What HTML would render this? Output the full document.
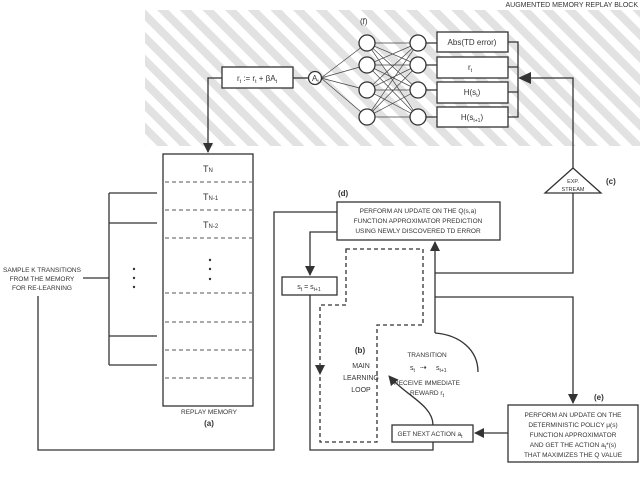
<!DOCTYPE html>
<html><head><meta charset="utf-8"><style>
html,body{margin:0;padding:0;background:#fff}
svg{display:block}
text{font-family:"Liberation Sans",Arial,sans-serif;fill:#333}
</style></head><body>
<svg width="640" height="478" viewBox="0 0 640 478" xmlns="http://www.w3.org/2000/svg">
<defs>
<pattern id="h" patternUnits="userSpaceOnUse" width="16" height="16" patternTransform="rotate(45)">
<rect x="0" y="0" width="16" height="8" fill="#e2e2e2"/>
</pattern>
<marker id="a" markerWidth="10" markerHeight="10" refX="9" refY="5" orient="auto" markerUnits="userSpaceOnUse">
<path d="M0,0 L10,5 L0,10 z" fill="#333"/>
</marker>
</defs>
<rect x="145" y="10" width="495" height="136" fill="url(#h)"/>
<text x="638" y="7" font-size="7" text-anchor="end">AUGMENTED MEMORY REPLAY BLOCK</text>
<text x="360" y="24" font-size="8">(f)</text>

<g stroke="#444" stroke-width="0.7" fill="none">
<!-- network lines -->
<path d="M321,78 L367,43 M321,78 L367,65 M321,78 L367,90 M321,78 L367,117"/>
<path d="M367,43 L418,43 M367,43 L418,65 M367,43 L418,90 M367,43 L418,117
M367,65 L418,43 M367,65 L418,65 M367,65 L418,90 M367,65 L418,117
M367,90 L418,43 M367,90 L418,65 M367,90 L418,90 M367,90 L418,117
M367,117 L418,43 M367,117 L418,65 M367,117 L418,90 M367,117 L418,117"/>
</g>
<g stroke="#333" stroke-width="1.3" fill="#fff">
<circle cx="367" cy="43" r="8"/><circle cx="367" cy="65" r="8"/><circle cx="367" cy="90" r="8"/><circle cx="367" cy="117" r="8"/>
<circle cx="418" cy="43" r="8"/><circle cx="418" cy="65" r="8"/><circle cx="418" cy="90" r="8"/><circle cx="418" cy="117" r="8"/>
<circle cx="315" cy="78" r="6.5"/>
<rect x="222" y="67" width="71" height="21"/>
<rect x="437" y="32" width="71" height="20"/>
<rect x="437" y="57" width="71" height="21"/>
<rect x="437" y="82" width="71" height="21"/>
<rect x="437" y="107" width="71" height="20"/>
</g>
<g stroke="#333" stroke-width="1.3" fill="none">
<path d="M293,78 L308,78"/>
<path d="M426,43 L437,43 M426,65 L437,65 M426,90 L437,90 M426,117 L437,117"/>
<path d="M508,42 L518,42 L518,117 L508,117 M508,67 L518,67 M508,92 L518,92"/>
<path d="M573,168 L573,78 L531,78"/>
<path d="M222,78 L208,78 L208,152" marker-end="url(#a)"/>
</g>
<path d="M518,78 L531,72 L531,84 z" fill="#333"/>
<text x="257" y="81" font-size="8" text-anchor="middle">r<tspan font-size="5" dy="2">t</tspan><tspan dy="-2"> := r</tspan><tspan font-size="5" dy="2">t</tspan><tspan dy="-2"> + βA</tspan><tspan font-size="5" dy="2">t</tspan></text>
<text x="312" y="81" font-size="8">A<tspan font-size="5" dy="2">t</tspan></text>
<text x="472" y="45" font-size="8" text-anchor="middle">Abs(TD error)</text>
<text x="470" y="70" font-size="8" text-anchor="middle">r<tspan font-size="5" dy="2">t</tspan></text>
<text x="472" y="95" font-size="8" text-anchor="middle">H(s<tspan font-size="5" dy="2">t</tspan><tspan dy="-2">)</tspan></text>
<text x="472" y="120" font-size="8" text-anchor="middle">H(s<tspan font-size="5" dy="2">t+1</tspan><tspan dy="-2">)</tspan></text>

<!-- triangle -->
<path d="M573,168 L545,193 L601,193 z" fill="#fff" stroke="#333" stroke-width="1.3"/>
<text x="573" y="183" font-size="5.5" text-anchor="middle">EXP.</text>
<text x="573" y="191" font-size="5.5" text-anchor="middle">STREAM</text>
<text x="606" y="184" font-size="8" font-weight="bold">(c)</text>

<!-- memory -->
<rect x="163" y="154" width="90" height="252" fill="#fff" stroke="#333" stroke-width="1.3"/>
<g stroke="#555" stroke-width="0.9" stroke-dasharray="4,3">
<path d="M165,182 L252,182 M165,210 L252,210 M165,238 L252,238 M165,293 L252,293 M165,322 L252,322 M165,350 L252,350 M165,378 L252,378"/>
</g>
<text x="203" y="172" font-size="9">T<tspan font-size="6">N</tspan></text>
<text x="203" y="200" font-size="9">T<tspan font-size="6">N-1</tspan></text>
<text x="203" y="228" font-size="9">T<tspan font-size="6">N-2</tspan></text>
<g fill="#333"><circle cx="210" cy="260" r="1.2"/><circle cx="210" cy="269" r="1.2"/><circle cx="210" cy="279" r="1.2"/>
<circle cx="134" cy="269" r="1.2"/><circle cx="134" cy="278" r="1.2"/><circle cx="134" cy="287" r="1.2"/></g>
<text x="209" y="414" font-size="6.5" text-anchor="middle">REPLAY MEMORY</text>
<text x="209" y="426" font-size="8" font-weight="bold" text-anchor="middle">(a)</text>
<g stroke="#333" stroke-width="1.3" fill="none">
<path d="M109,193 L109,365 M109,193 L157,193 M109,223 L157,223 M109,336 L157,336 M109,365 L157,365 M83,278 L109,278"/>
<path d="M38,296 L38,450 L274,450 L274,212 L337,212"/>
</g>
<text x="42" y="272" font-size="6.5" text-anchor="middle">SAMPLE K TRANSITIONS</text>
<text x="42" y="281" font-size="6.5" text-anchor="middle">FROM THE MEMORY</text>
<text x="42" y="290" font-size="6.5" text-anchor="middle">FOR RE-LEARNING</text>

<!-- Q box -->
<rect x="337" y="202" width="163" height="38" fill="#fff" stroke="#333" stroke-width="1.3"/>
<text x="338" y="196" font-size="8" font-weight="bold">(d)</text>
<text x="418" y="213" font-size="6.5" text-anchor="middle">PERFORM AN UPDATE ON THE Q(s,a)</text>
<text x="418" y="223" font-size="6.5" text-anchor="middle">FUNCTION APPROXIMATOR PREDICTION</text>
<text x="418" y="233" font-size="6.5" text-anchor="middle">USING NEWLY DISCOVERED TD ERROR</text>

<g stroke="#333" stroke-width="1.3" fill="none">
<path d="M573,193 L573,273 L435,273"/>
<path d="M435,333 L435,242" marker-end="url(#a)"/>
<path d="M435,297 L573,297 L573,403" marker-end="url(#a)"/>
<path d="M337,232 L310,232 L310,275" marker-end="url(#a)"/>
<path d="M310,295 L310,450 L433,450 L433,442"/>
<path d="M508,433 L475,433" marker-end="url(#a)"/>
<path d="M433,425 C433,405 405,395 389,376" marker-end="url(#a)"/>
<path d="M478,372 C478,350 460,335 435,333"/>
</g>
<rect x="282" y="277" width="55" height="18" fill="#fff" stroke="#333" stroke-width="1.3"/>
<text x="309" y="289" font-size="7" text-anchor="middle">s<tspan font-size="5" dy="2">t</tspan><tspan dy="-2"> = s</tspan><tspan font-size="5" dy="2">t+1</tspan></text>
<rect x="392" y="425" width="81" height="17" fill="#fff" stroke="#333" stroke-width="1.3"/>
<text x="430" y="436" font-size="6.5" text-anchor="middle">GET NEXT ACTION a<tspan font-size="5" dy="2">t</tspan></text>
<rect x="508" y="405" width="130" height="57" fill="#fff" stroke="#333" stroke-width="1.3"/>
<text x="594" y="400" font-size="8" font-weight="bold">(e)</text>
<text x="573" y="417" font-size="6.5" text-anchor="middle">PERFORM AN UPDATE ON THE</text>
<text x="573" y="427" font-size="6.5" text-anchor="middle">DETERMINISTIC POLICY μ(s)</text>
<text x="573" y="437" font-size="6.5" text-anchor="middle">FUNCTION APPROXIMATOR</text>
<text x="573" y="447" font-size="6.5" text-anchor="middle">AND GET THE ACTION a<tspan font-size="5" dy="2">t</tspan><tspan dy="-2">*(s)</tspan></text>
<text x="573" y="457" font-size="6.5" text-anchor="middle">THAT MAXIMIZES THE Q VALUE</text>

<!-- dashed loop -->
<path d="M346,249 L423,249 L423,325 L377,325 L377,442 L320,442 L320,305 L346,305 z" fill="none" stroke="#333" stroke-width="1.3" stroke-dasharray="4,3"/>
<path d="M320,375 L315,365 L325,365 z" fill="#333"/>
<text x="360" y="353" font-size="8" font-weight="bold" text-anchor="middle">(b)</text>
<text x="361" y="368" font-size="7" text-anchor="middle">MAIN</text>
<text x="361" y="380" font-size="7" text-anchor="middle">LEARNING</text>
<text x="361" y="392" font-size="7" text-anchor="middle">LOOP</text>
<text x="427" y="357" font-size="6.5" text-anchor="middle">TRANSITION</text>
<text x="410" y="370" font-size="7">s<tspan font-size="5" dy="2">t</tspan></text>
<text x="420" y="370" font-size="8">⇢</text>
<text x="436" y="370" font-size="7">s<tspan font-size="5" dy="2">t+1</tspan></text>
<text x="427" y="385" font-size="6.5" text-anchor="middle">RECEIVE IMMEDIATE</text>
<text x="427" y="395" font-size="6.5" text-anchor="middle">REWARD r<tspan font-size="5" dy="2">t</tspan></text>
</svg>
</body></html>
